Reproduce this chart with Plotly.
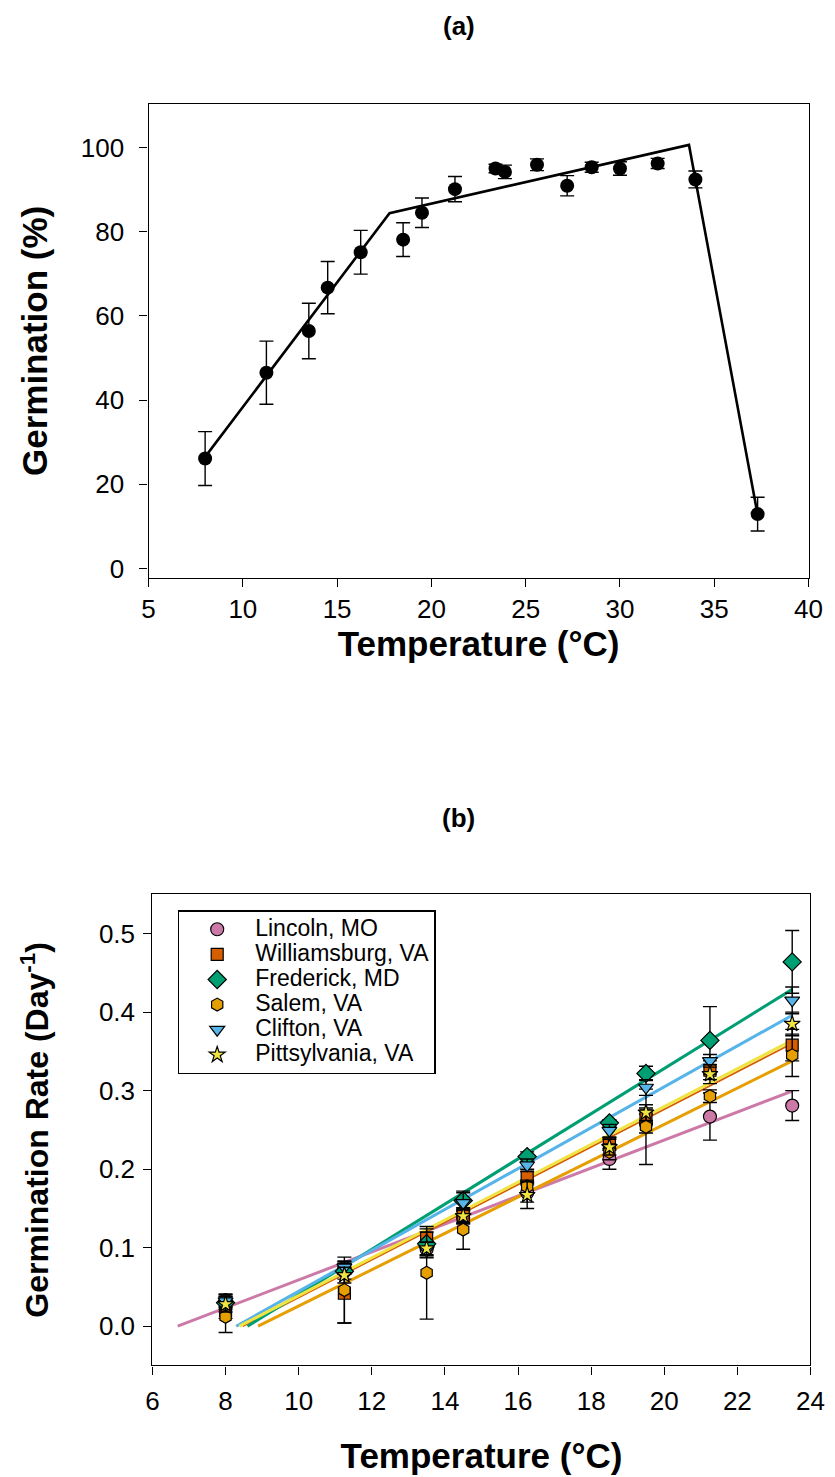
import plotly.graph_objects as go

# ---------------- Panel (a) data ----------------
temps_a = [8.0, 11.25, 13.5, 14.5, 16.25, 18.5, 19.5, 21.25, 23.4, 23.9, 25.6, 27.2, 28.5, 30.0, 32.0, 34.0, 37.3]
germ_pct = [26.1, 46.5, 56.4, 66.7, 75.1, 78.1, 84.5, 90.1, 95.0, 94.2, 95.9, 90.9, 95.3, 95.0, 96.2, 92.4, 12.9]
germ_se = [6.4, 7.5, 6.6, 6.2, 5.2, 4.0, 3.5, 3.0, 1.0, 1.6, 1.4, 2.4, 1.2, 1.6, 1.2, 2.0, 4.0]
fit_a_x = [8.0, 17.78, 33.66, 37.25]
fit_a_y = [26.5, 84.4, 100.6, 14.0]

# ---------------- Panel (b) data ----------------
temps_b = [8.0, 11.25, 13.5, 14.5, 16.25, 18.5, 19.5, 21.25, 23.5]
sites = ["Lincoln, MO", "Williamsburg, VA", "Frederick, MD", "Salem, VA", "Clifton, VA", "Pittsylvania, VA"]
lincoln = [0.033, 0.074, 0.098, 0.138, 0.170, 0.213, 0.258, 0.267, 0.281]
williamsburg = [0.020, 0.042, 0.112, 0.141, 0.190, 0.232, 0.268, 0.326, 0.358]
frederick = [0.030, 0.070, 0.105, 0.160, 0.216, 0.259, 0.322, 0.364, 0.464]
salem = [0.012, 0.046, 0.068, 0.123, 0.178, 0.222, 0.254, 0.293, 0.345]
clifton = [0.032, 0.075, 0.097, 0.157, 0.205, 0.249, 0.304, 0.338, 0.415]
pittsylvania = [0.028, 0.065, 0.099, 0.140, 0.167, 0.228, 0.272, 0.321, 0.385]

lincoln_se = [0.008, 0.008, 0.010, 0.008, 0.012, 0.013, 0.012, 0.030, 0.019]
williamsburg_se = [0.010, 0.038, 0.012, 0.010, 0.010, 0.008, 0.010, 0.012, 0.020]
frederick_se = [0.008, 0.010, 0.015, 0.010, 0.006, 0.004, 0.009, 0.043, 0.040]
salem_se = [0.020, 0.042, 0.059, 0.025, 0.008, 0.010, 0.048, 0.008, 0.027]
clifton_se = [0.008, 0.008, 0.010, 0.015, 0.008, 0.008, 0.010, 0.008, 0.017]
pittsylvania_se = [0.010, 0.010, 0.008, 0.008, 0.017, 0.010, 0.010, 0.012, 0.015]

# fitted regression lines: x where rate = 0 (base temperature), and value at 23.5 C
fit_b_x0 = [6.69, 8.47, 8.60, 8.89, 8.29, 8.38]
fit_b_x1 = [23.5, 23.5, 23.5, 23.5, 23.5, 23.5]
fit_b_y1 = [0.2995, 0.360, 0.429, 0.338, 0.396, 0.364]

values_b = [lincoln, williamsburg, frederick, salem, clifton, pittsylvania]
errors_b = [lincoln_se, williamsburg_se, frederick_se, salem_se, clifton_se, pittsylvania_se]

colors = ["#CC79A7", "#D55E00", "#009E73", "#E69F00", "#56B4E9", "#F0E442"]
symbols = ["circle", "square", "diamond", "hexagon", "triangle-down", "star"]
msizes = [13, 12, 14, 13, 13, 12]
line_widths = [3, 1.8, 3, 3, 3, 3]

FONT = "Arial, Liberation Sans, sans-serif"

fig = go.Figure()

# Panel (a)
fig.add_trace(go.Scatter(
    x=fit_a_x, y=fit_a_y, mode="lines",
    line=dict(color="black", width=2.6), showlegend=False,
    xaxis="x", yaxis="y"))
fig.add_trace(go.Scatter(
    x=temps_a, y=germ_pct, mode="markers",
    marker=dict(color="black", size=14, symbol="circle"),
    error_y=dict(type="data", array=germ_se, color="black", thickness=1.4, width=7),
    showlegend=False, xaxis="x", yaxis="y"))

# Panel (b) lines
for i in range(len(sites)):
    fig.add_trace(go.Scatter(
        x=[fit_b_x0[i], fit_b_x1[i]], y=[0.0, fit_b_y1[i]], mode="lines",
        line=dict(color=colors[i], width=line_widths[i]),
        showlegend=False, hoverinfo="skip", xaxis="x2", yaxis="y2"))

# Panel (b) markers
for i in range(len(sites)):
    fig.add_trace(go.Scatter(
        x=temps_b, y=values_b[i], mode="markers",
        name='<span style="font-size:23px">' + sites[i] + '</span>',
        marker=dict(color=colors[i], size=msizes[i], symbol=symbols[i],
                    line=dict(color="black", width=1.2)),
        error_y=dict(type="data", array=errors_b[i], color="black", thickness=1.4, width=7),
        xaxis="x2", yaxis="y2"))

axis_common = dict(
    showline=True, linecolor="black", linewidth=1.4, mirror=True,
    ticks="outside", ticklen=8, tickwidth=1.4, tickcolor="black",
    showgrid=False, zeroline=False,
    tickfont=dict(family=FONT, size=26, color="black"),
)
title_font = dict(family=FONT, size=35, color="black", weight="bold")
title_font_b = dict(family=FONT, size=32, color="black", weight="bold")

H = 1477.0
W = 835.0
fig.update_layout(
    width=835, height=1477,
    margin=dict(l=0, r=0, t=0, b=0),
    paper_bgcolor="white", plot_bgcolor="white",
    font=dict(family=FONT, color="black"),
    xaxis=dict(axis_common, domain=[137 / W, 814 / W], range=[5, 40],
               tickvals=[5, 10, 15, 20, 25, 30, 35, 40], ticklabelstandoff=0,
               title=dict(text="Temperature (°C)", font=title_font, standoff=6),
               anchor="y"),
    yaxis=dict(axis_common, domain=[1 - 572 / H, 1 - 96.5 / H], range=[-2.2, 110.3],
               tickvals=[0, 20, 40, 60, 80, 100], ticklabelstandoff=10,
               title=dict(text="Germination (%)", font=title_font, standoff=22),
               anchor="x"),
    xaxis2=dict(axis_common, domain=[141 / W, 816 / W], range=[6, 24],
                tickvals=[6, 8, 10, 12, 14, 16, 18, 20, 22, 24], ticklabelstandoff=4,
                title=dict(text="Temperature (°C)", font=title_font, standoff=28),
                anchor="y2"),
    yaxis2=dict(axis_common, domain=[1 - 1363 / H, 1 - 890 / H], range=[-0.05, 0.55],
                tickvals=[0.0, 0.1, 0.2, 0.3, 0.4, 0.5], tickformat=".1f", ticklabelstandoff=3,
                title=dict(text="Germination Rate (Day<sup>-1</sup>)", font=title_font_b, standoff=40),
                anchor="x2"),
    legend=dict(x=167 / W, y=1 - 906 / H, xanchor="left", yanchor="top",
                bordercolor="black", borderwidth=1.4, bgcolor="white",
                font=dict(family=FONT, size=17, color="black"),
                tracegroupgap=0, itemwidth=66),
    annotations=[
        dict(text="<b>(a)</b>", x=455 / W, y=1 - 18 / H, xref="paper", yref="paper",
             xanchor="center", yanchor="middle",
             showarrow=False, font=dict(family=FONT, size=26, color="black")),
        dict(text="<b>(b)</b>", x=455 / W, y=1 - 813 / H, xref="paper", yref="paper",
             xanchor="center", yanchor="middle",
             showarrow=False, font=dict(family=FONT, size=26, color="black")),
    ],
)

fig.write_html("out.html")
